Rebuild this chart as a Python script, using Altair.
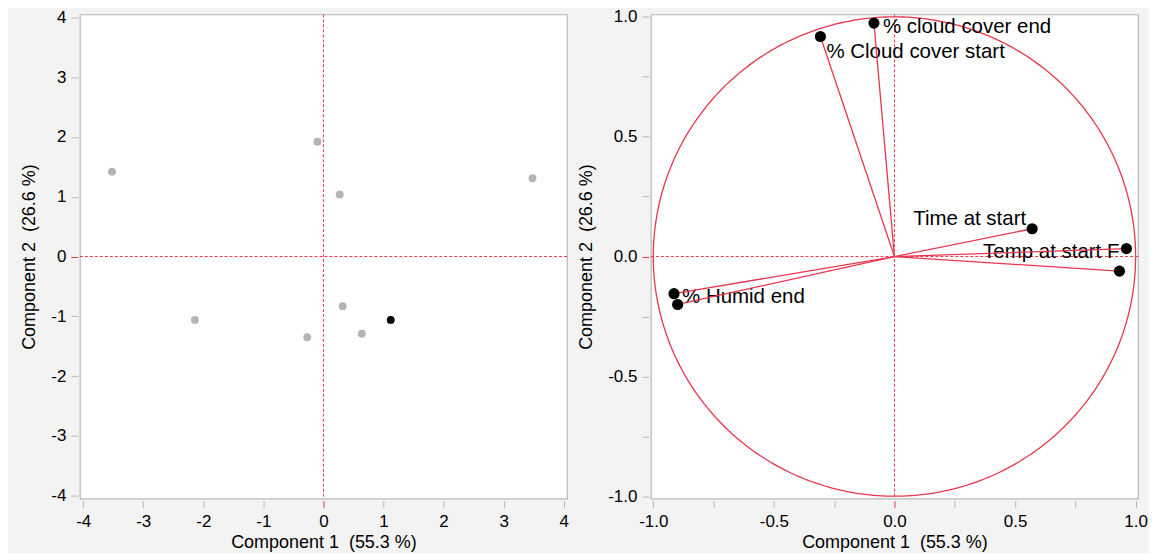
import altair as alt
import pandas as pd

# ---------------- data ----------------
# Score plot (left)
score_pc1 = [-3.52, -0.10, 0.27, 3.48, -2.14, -0.27, 0.32, 0.64, 1.12]
score_pc2 = [1.42, 1.92, 1.04, 1.31, -1.06, -1.35, -0.83, -1.29, -1.06]
score_grp = ["other", "other", "other", "other", "other", "other", "other", "other", "selected"]

# Loading plot (right)
var_names = ["% cloud cover end", "% Cloud cover start", "Time at start",
             "Temp at start F", "Temp at end F", "% Humid end", "% Humid start"]
load_pc1 = [-0.085, -0.307, 0.571, 0.962, 0.933, -0.914, -0.899]
load_pc2 = [0.974, 0.918, 0.116, 0.033, -0.061, -0.155, -0.200]
var_labeled = [True, True, True, True, False, True, False]

x_title = "Component 1\u00a0 (55.3 %)"
y_title = "Component 2\u00a0 (26.6 %)"
left_ticks = [-4, -3, -2, -1, 0, 1, 2, 3, 4]
right_ticks = [-1.0, -0.75, -0.5, -0.25, 0.0, 0.25, 0.5, 0.75, 1.0]

# ---------------- style ----------------
RED = "#e8364e"
FRAME = "#b8b8b8"
FONT = "Liberation Sans"
BG = "#f3f3f3"

scores = pd.DataFrame({"pc1": score_pc1, "pc2": score_pc2, "grp": score_grp})
loads = pd.DataFrame({"name": var_names, "pc1": load_pc1, "pc2": load_pc2,
                      "labeled": var_labeled})
zero = pd.DataFrame({"z": [0.0]})

tick_color = {"condition": {"test": "datum.value === 0", "value": RED}, "value": FRAME}


def make_axis(values, label_expr, orient_x):
    return alt.Axis(values=values, labelExpr=label_expr, grid=False, domain=False, offset=2,
                    tickSize=7, tickWidth=1, tickColor=tick_color,
                    labelFontSize=17, titleFontSize=18, labelFont=FONT, titleFont=FONT,
                    labelColor="black", titleColor="black", titleFontWeight="normal",
                    labelPadding=6 if orient_x else 5,
                    titlePadding=4 if orient_x else 12)


int_expr = "(datum.value < 0 ? '-' : '') + format(abs(datum.value), 'd')"
half_expr = ("abs(datum.value*2 - round(datum.value*2)) < 0.001 ? "
             "(datum.value < 0 ? '-' : '') + format(abs(datum.value), '.1f') : ''")

PW, PH = 488, 485

# ---------------- left panel ----------------
lx = alt.Scale(domain=[-4.055, 4.055], nice=False, zero=False)
ly = alt.Scale(domain=[-4.05, 4.05], nice=False, zero=False)
lax = make_axis(left_ticks, int_expr, True)
lay = make_axis(left_ticks, int_expr, False)

left_vrule = alt.Chart(zero).mark_rule(color=RED, strokeDash=[3, 2], strokeWidth=1).encode(
    x=alt.X("z:Q", scale=lx, axis=lax, title=x_title))
left_hrule = alt.Chart(zero).mark_rule(color=RED, strokeDash=[3, 2], strokeWidth=1).encode(
    y=alt.Y("z:Q", scale=ly, axis=lay, title=y_title))
left_pts = alt.Chart(scores).mark_circle(size=62, opacity=1).encode(
    x=alt.X("pc1:Q", scale=lx, axis=lax, title=x_title),
    y=alt.Y("pc2:Q", scale=ly, axis=lay, title=y_title),
    color=alt.Color("grp:N", scale=alt.Scale(domain=["other", "selected"],
                                             range=["#b4b4b4", "black"]), legend=None),
)
left = alt.layer(left_vrule, left_hrule, left_pts).properties(width=PW, height=PH)

# ---------------- right panel ----------------
rx = alt.Scale(domain=[-1.01, 1.01], nice=False, zero=False)
ry = alt.Scale(domain=[-1.01, 1.01], nice=False, zero=False)
rax = make_axis(right_ticks, half_expr, True)
ray = make_axis(right_ticks, half_expr, False)
X = lambda f: alt.X(f, scale=rx, axis=rax, title=x_title)
Y = lambda f: alt.Y(f, scale=ry, axis=ray, title=y_title)

right_vrule = alt.Chart(zero).mark_rule(color=RED, strokeDash=[3, 2], strokeWidth=1).encode(x=X("z:Q"))
right_hrule = alt.Chart(zero).mark_rule(color=RED, strokeDash=[3, 2], strokeWidth=1).encode(y=Y("z:Q"))

circle = alt.Chart(alt.sequence(0, 361, 1, as_="deg")).transform_calculate(
    cx="cos(datum.deg*PI/180)", cy="sin(datum.deg*PI/180)"
).mark_line(color=RED, strokeWidth=1.3).encode(x=X("cx:Q"), y=Y("cy:Q"), order="deg:Q")

arrows = alt.Chart(loads).mark_rule(color=RED, strokeWidth=1.3).encode(
    x=X("pc1:Q"), y=Y("pc2:Q"), x2=alt.datum(0), y2=alt.datum(0))

heads = alt.Chart(loads).transform_calculate(
    ang="(atan2(datum.pc1, datum.pc2)*180/PI + 360) % 360"
).mark_point(shape="triangle", filled=True, size=45, color=RED, opacity=1).encode(
    x=X("pc1:Q"), y=Y("pc2:Q"), angle=alt.Angle("ang:Q", scale=None))

dots = alt.Chart(loads).mark_circle(size=125, color="black", opacity=1).encode(
    x=X("pc1:Q"), y=Y("pc2:Q"))

label_style = {
    "% cloud cover end": dict(align="left", dx=9, dy=4),
    "% Cloud cover start": dict(align="left", dx=6, dy=16),
    "Time at start": dict(align="right", dx=-6, dy=-10),
    "Temp at start F": dict(align="right", dx=-7, dy=3),
    "% Humid end": dict(align="left", dx=8, dy=3),
}
labels = []
for nm, st in label_style.items():
    labels.append(
        alt.Chart(loads).transform_filter(alt.datum.labeled & (alt.datum.name == nm))
        .mark_text(baseline="middle", fontSize=20.5, font=FONT, color="black", **st)
        .encode(x=X("pc1:Q"), y=Y("pc2:Q"), text="name:N")
    )

right = alt.layer(right_vrule, right_hrule, circle, *labels, arrows, heads, dots).properties(
    width=PW, height=PH)

chart = alt.hconcat(left, right, spacing=7).properties(
    background=BG,
    padding={"left": 12, "top": -2, "right": 0, "bottom": 0},
).configure_view(fill="white", stroke=FRAME, strokeWidth=1.2)

chart.save("out.html", embed_options={"renderer": "svg", "actions": False})
